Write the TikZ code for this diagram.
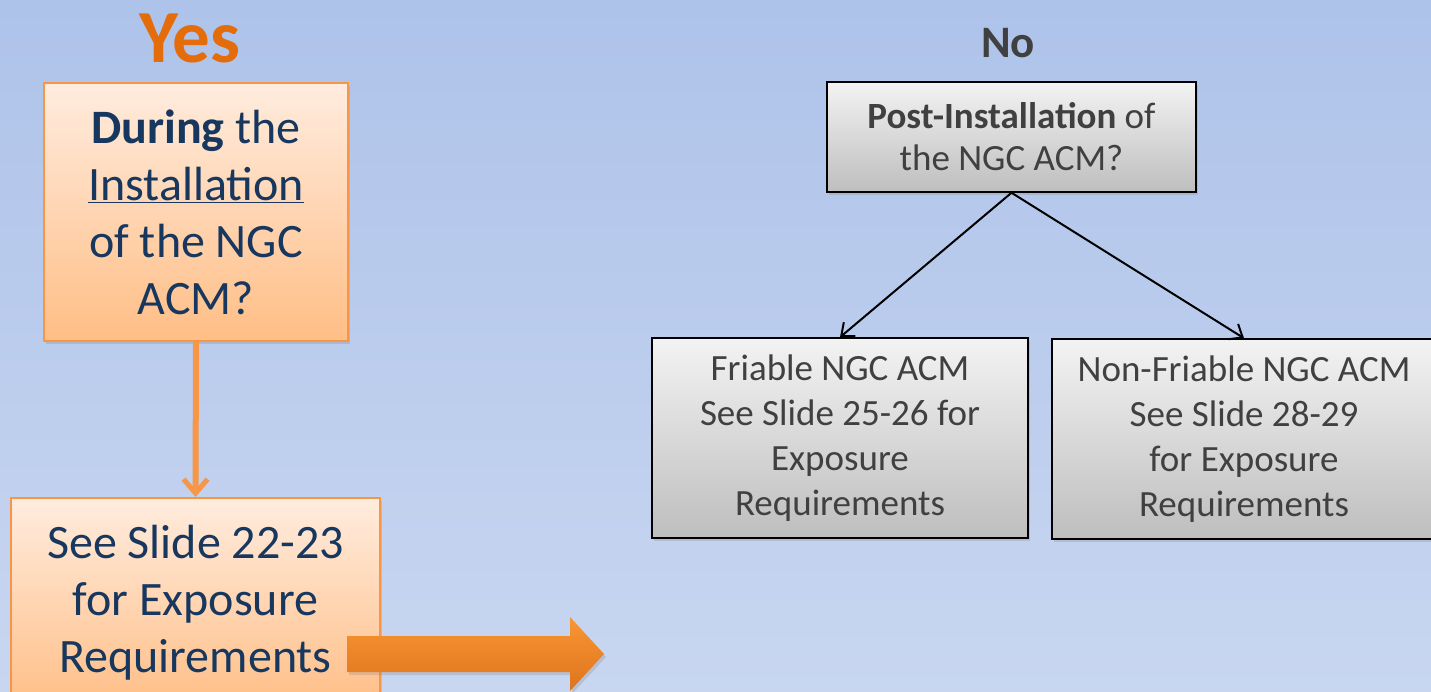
\documentclass[tikz,border=0pt]{standalone}
\usepackage{fontspec}
\setmainfont{Carlito}
\usepackage{tikz}
\usetikzlibrary{arrows.meta,shadows,calc}

\definecolor{navy}{RGB}{23,55,94}
\definecolor{darkgray}{RGB}{64,64,64}
\definecolor{orangeline}{RGB}{247,150,70}
\definecolor{yesorange}{RGB}{228,108,10}
\definecolor{bgtop}{RGB}{174,195,234}
\definecolor{bgbottom}{RGB}{200,214,240}

\tikzset{
  orangebox/.style={draw=orangeline,line width=2pt,top color={rgb,255:red,255;green,236;blue,222},
    bottom color={rgb,255:red,255;green,190;blue,134},text=navy,align=center,
    drop shadow={shadow xshift=2pt,shadow yshift=-3pt,opacity=0.25}},
  graybox/.style={draw=black,line width=1.5pt,top color={rgb,255:red,243;green,243;blue,243},
    bottom color={rgb,255:red,190;green,190;blue,190},text=darkgray,align=center,
    drop shadow={shadow xshift=2pt,shadow yshift=-3pt,opacity=0.25}},
}

\begin{document}
\begin{tikzpicture}[x=1pt,y=-1pt]

      \useasboundingbox (0,0) rectangle (1431,691);
      \clip (0,0) rectangle (1431,691);
      \shade[top color=bgtop,bottom color=bgbottom] (0,0) rectangle (1431,691);

      \node[text=yesorange,font=\fontsize{75}{75}\bfseries\selectfont] (yes) at (190,38){Yes};
      \node[orangebox,minimum width=304pt,minimum height=258pt,font=\fontsize{48}{57}\selectfont] (during) at (196,212)
        {\textbf{During} the\\\underline{Installation}\\of the NGC\\ACM?};
      \node[orangebox,minimum width=369pt,minimum height=210pt,font=\fontsize{48}{57}\selectfont] (see) at (195.5,603)
        {See Slide 22-23\\for Exposure\\Requirements};

      \node[text=darkgray,font=\fontsize{45}{45}\bfseries\selectfont] (no) at (1008,43){No};
      \node[graybox,minimum width=369pt,minimum height=110pt,font=\fontsize{37}{42}\selectfont] (post) at (1011.5,137)
        {\textbf{Post-Installation} of\\the NGC ACM?};
      \node[graybox,minimum width=376pt,minimum height=200pt,font=\fontsize{37}{45}\selectfont] (friable) at (840,438)
        {Friable NGC ACM\\See Slide 25-26 for\\Exposure\\Requirements};
      \node[graybox,minimum width=384pt,minimum height=200pt,font=\fontsize{37}{45}\selectfont] (nonfriable) at (1244,439)
        {Non-Friable NGC ACM\\See Slide 28-29\\for Exposure\\Requirements};

      \draw[draw=orangeline,line width=6pt,-{Straight Barb[length=14pt,width=24pt,line width=5pt]}] (during.south) -- (see.north);
      \draw[line width=2pt,-{Straight Barb[length=11pt,width=18pt]}] (post.south) -- (friable.north);
      \draw[line width=2pt,-{Straight Barb[length=11pt,width=18pt]}] (post.south) -- (nonfriable.north);

      % block arrow out of the lower box
      \coordinate (tail) at (347,654);
      \shade[top color={rgb,255:red,249;green,150;blue,52},bottom color={rgb,255:red,222;green,116;blue,28},
        drop shadow={shadow xshift=2pt,shadow yshift=-3pt,opacity=0.25}]
        ($(tail)+(0,-18)$) -- ++(223,0) -- ++(0,-19) -- ++(34,37) -- ++(-34,37) -- ++(0,-19) -- ++(-223,0) -- cycle;

    \end{tikzpicture}
\end{document}
